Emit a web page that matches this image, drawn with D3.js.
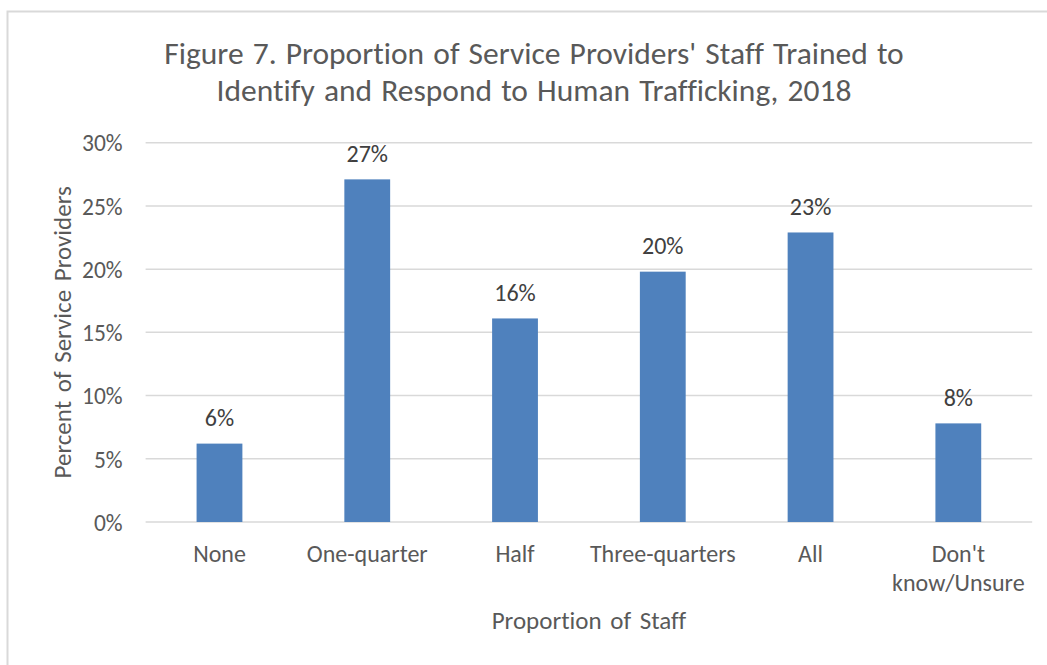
<!DOCTYPE html>
<html>
<head>
<meta charset="utf-8">
<script src="https://cdn.jsdelivr.net/npm/d3@7"></script>
<style>
  html, body { margin: 0; padding: 0; background: #fff; }
  svg text { font-family: Carlito, Calibri, Lato, sans-serif; font-variant-ligatures: none; }
</style>
</head>
<body>
<svg id="chart" width="1047" height="665"></svg>
<script>
// chart data
var categories = ["None", "One-quarter", "Half", "Three-quarters", "All", "Don't know/Unsure"];
var categoryLines = [["None"], ["One-quarter"], ["Half"], ["Three-quarters"], ["All"], ["Don't", "know/Unsure"]];
var values = [6.2, 27.1, 16.1, 19.8, 22.9, 7.8];
var valueLabels = ["6%", "27%", "16%", "20%", "23%", "8%"];
var yTicks = [0, 5, 10, 15, 20, 25, 30];
var titleLines = ["Figure 7. Proportion of Service Providers' Staff Trained to",
                  "Identify and Respond to Human Trafficking, 2018"];

var svg = d3.select("#chart");

// outer chart frame (runs off the right and bottom edges)
svg.append("rect")
  .attr("x", 7.5).attr("y", 11.5)
  .attr("width", 1100).attr("height", 700)
  .attr("fill", "#fff")
  .attr("stroke", "#d9d9d9")
  .attr("stroke-width", 2);

var plot = { left: 145.6, right: 1032.2, top: 142.7, bottom: 522 };

var x = d3.scaleBand()
  .domain(categories)
  .range([plot.left, plot.right])
  .paddingInner(0.69)
  .paddingOuter(0.345);

var y = d3.scaleLinear()
  .domain([0, 30])
  .range([plot.bottom, plot.top]);

// gridlines
svg.append("g")
  .selectAll("line")
  .data(yTicks)
  .enter().append("line")
  .attr("x1", plot.left).attr("x2", plot.right)
  .attr("y1", function (d) { return y(d); })
  .attr("y2", function (d) { return y(d); })
  .attr("stroke", "#d9d9d9")
  .attr("stroke-width", 1.5);

// y axis tick labels
var yAxis = d3.axisLeft(y)
  .tickValues(yTicks)
  .tickSize(0)
  .tickPadding(23)
  .tickFormat(function (d) { return d + "%"; });

var gy = svg.append("g")
  .attr("transform", "translate(" + plot.left + ",0)")
  .call(yAxis);
gy.select(".domain").remove();
gy.selectAll("text")
  .attr("fill", "#595959")
  .style("font-size", "23.5px")
  .attr("dy", "0.35em");

// bars
svg.append("g")
  .selectAll("rect")
  .data(values)
  .enter().append("rect")
  .attr("x", function (d, i) { return x(categories[i]); })
  .attr("y", function (d) { return y(d); })
  .attr("width", x.bandwidth())
  .attr("height", function (d) { return y(0) - y(d); })
  .attr("fill", "#4f81bd");

// value labels
svg.append("g")
  .selectAll("text")
  .data(values)
  .enter().append("text")
  .attr("x", function (d, i) { return x(categories[i]) + x.bandwidth() / 2; })
  .attr("y", function (d) { return y(d) - 17.5; })
  .attr("text-anchor", "middle")
  .attr("fill", "#404040")
  .style("font-size", "24px")
  .text(function (d, i) { return valueLabels[i]; });

// category labels
var cat = svg.append("g")
  .selectAll("text")
  .data(categoryLines)
  .enter().append("text")
  .attr("text-anchor", "middle")
  .attr("fill", "#595959")
  .style("font-size", "24px")
  .attr("transform", function (d, i) {
    return "translate(" + (x(categories[i]) + x.bandwidth() / 2) + "," + (plot.bottom + 39.5) + ")";
  });
cat.selectAll("tspan")
  .data(function (d) { return d; })
  .enter().append("tspan")
  .attr("x", 0)
  .attr("y", function (d, i) { return i * 29; })
  .text(function (d) { return d; });

// axis titles
svg.append("text")
  .attr("x", (plot.left + plot.right) / 2)
  .attr("y", 629)
  .attr("text-anchor", "middle")
  .attr("fill", "#595959")
  .style("font-size", "25px")
  .style("word-spacing", "3px")
  .text("Proportion of Staff");

svg.append("text")
  .attr("transform", "translate(71," + ((plot.top + plot.bottom) / 2) + ") rotate(-90)")
  .attr("text-anchor", "middle")
  .attr("fill", "#595959")
  .style("font-size", "25px")
  .style("word-spacing", "3px")
  .text("Percent of Service Providers");

// title
svg.append("g")
  .selectAll("text")
  .data(titleLines)
  .enter().append("text")
  .attr("x", 534)
  .attr("y", function (d, i) { return 63.5 + i * 37; })
  .attr("text-anchor", "middle")
  .attr("fill", "#595959")
  .style("font-size", "31.5px")
  .style("word-spacing", "2px")
  .text(function (d) { return d; });
</script>
</body>
</html>
